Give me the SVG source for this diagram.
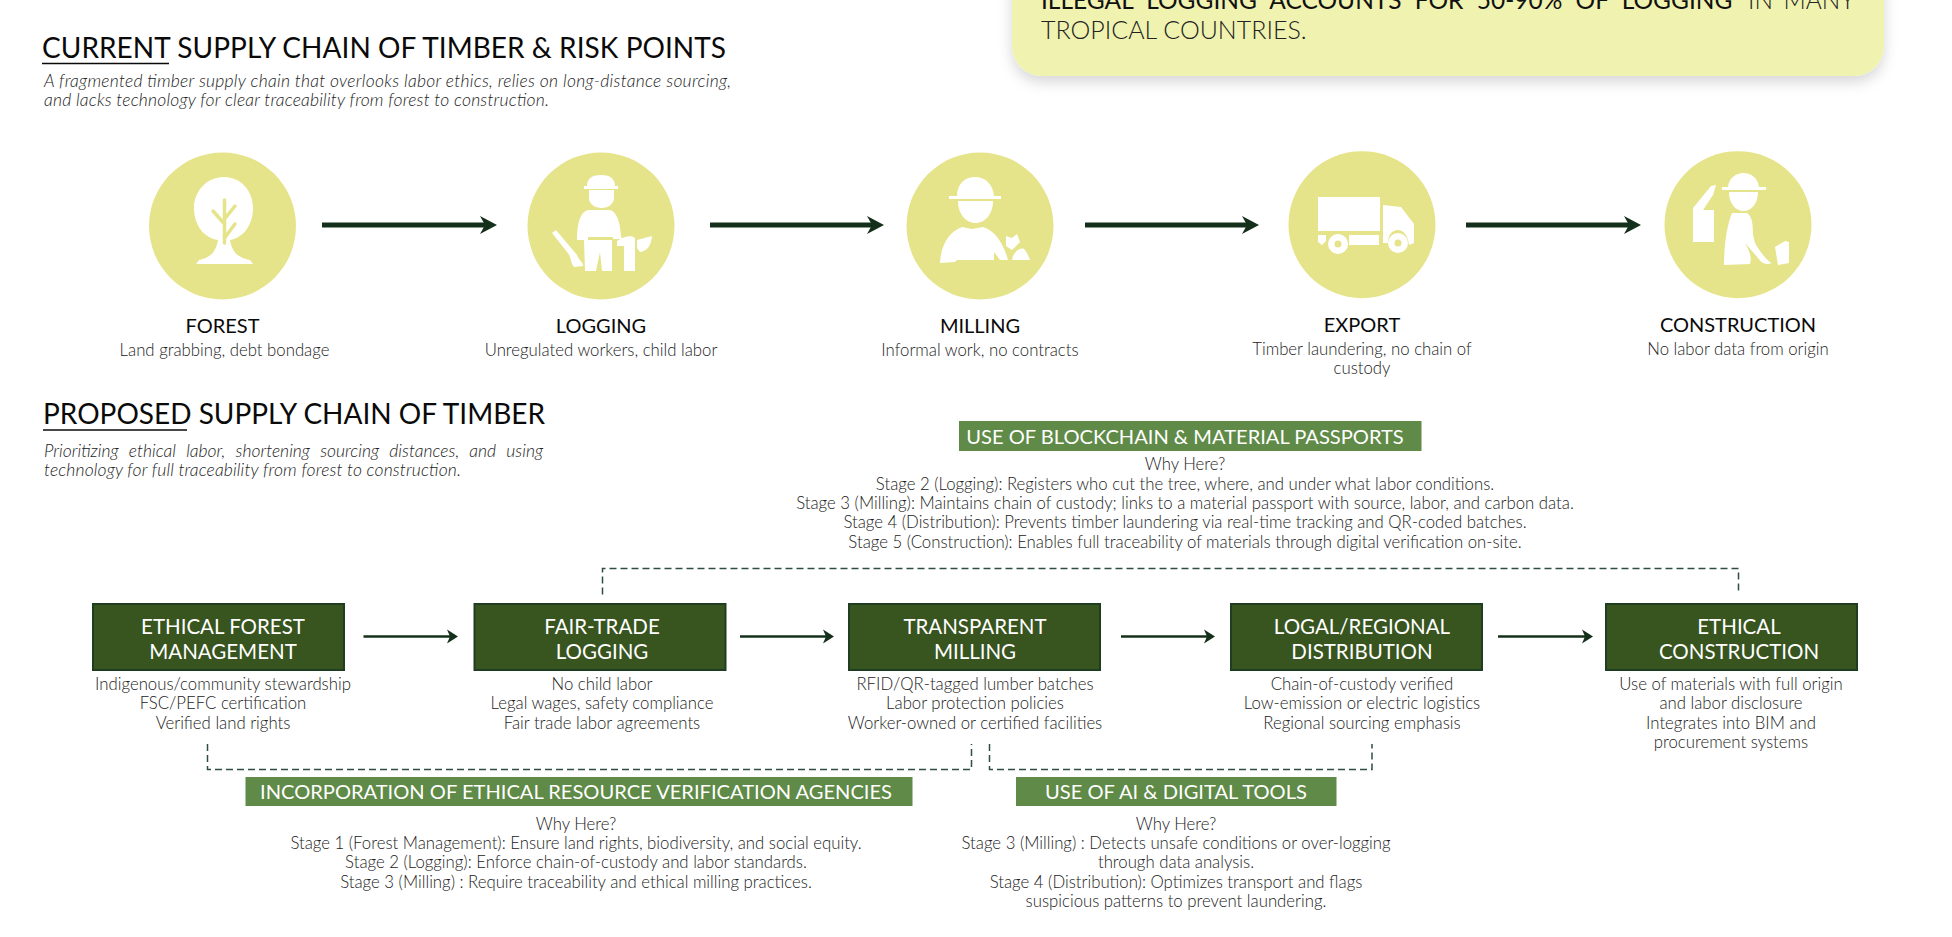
<svg xmlns="http://www.w3.org/2000/svg" width="1952" height="937" viewBox="0 0 1952 937">
<style>
text{font-family:"Lato","Liberation Sans",sans-serif}
.h1{font-size:28px;fill:#0a0a0a;font-weight:400}
.sub{font-size:17.500px;font-style:italic;font-weight:300;fill:#222}
.lab{font-size:20px;fill:#0a0a0a;text-anchor:middle;font-weight:400}
.b{font-size:16.750px;font-weight:300;fill:#222;text-anchor:middle}
.dk{fill:#38541f;stroke:#1f3d20;stroke-width:2}
.dt{font-size:20.500px;fill:#fff;text-anchor:middle;font-weight:400}
.gr{fill:#5f8a47}
.gt{font-size:20.100px;fill:#fff;text-anchor:middle;font-weight:400}
.c{fill:#e6e48a}
.w{fill:#fff}
.y{stroke:#e6e48a;fill:none;stroke-width:3.500;stroke-linecap:round}
.a1{stroke:#15301a;stroke-width:5;fill:none;marker-end:url(#ah)}
.a2{stroke:#15301a;stroke-width:2.500;fill:none;marker-end:url(#ah2)}
.d{stroke:#2f4d42;stroke-width:1.500;fill:none;stroke-dasharray:7 4}
.ul{stroke:#0a0a0a;stroke-width:1.600}
</style>
<defs>
<marker id="ah" markerUnits="userSpaceOnUse" markerWidth="20" markerHeight="22" refX="5" refY="11" orient="auto" overflow="visible"><path d="M0 2 L17 11 L0 20 L5 11Z" fill="#15301a"/></marker>
<marker id="ah2" markerUnits="userSpaceOnUse" markerWidth="14" markerHeight="16" refX="3" refY="8" orient="auto" overflow="visible"><path d="M0 1 L11 8 L0 15 L3 8Z" fill="#15301a"/></marker>
<filter id="sh" x="-5%" y="-20%" width="110%" height="150%"><feDropShadow dx="0" dy="6" stdDeviation="7" flood-color="#000" flood-opacity="0.16"/></filter>
</defs>

<g id="callout">
<rect x="1012" y="-60" width="872" height="136" rx="30" fill="#f0f2b0" filter="url(#sh)"/>
<text x="1041" y="9" font-size="24.500" font-weight="400" fill="#111" word-spacing="7">ILLEGAL LOGGING ACCOUNTS FOR 50-90% OF LOGGING</text>
<text x="1748" y="9" font-size="24.500" font-weight="300" fill="#222" word-spacing="4">IN MANY</text>
<text x="1041" y="39" font-size="25" font-weight="300" fill="#222">TROPICAL COUNTRIES.</text>
</g>

<g id="header-current">
<text class="h1" x="42" y="58" textLength="684">CURRENT SUPPLY CHAIN OF TIMBER &amp; RISK POINTS</text>
<line class="ul" x1="42" y1="63.500" x2="169" y2="63.500"/>
<text class="sub" x="44" y="87" textLength="687">A fragmented timber supply chain that overlooks labor ethics, relies on long-distance sourcing,</text>
<text class="sub" x="44" y="106" textLength="505">and lacks technology for clear traceability from forest to construction.</text>
</g>

<g id="forest">
<circle class="c" cx="222.500" cy="226" r="73.500"/>
<path class="w" d="M224 177C241 177 253 191 253 208C253 225 243 238 230 240C232 252 238 258 250 260L253 264H196L199 260C210 258 216 252 218 240C204 238 194 225 194 208C194 191 207 177 224 177Z"/>
<path class="y" d="M224.500 200V243M224.500 224L213 211M224.500 219L235 206M224.500 238L235 224"/>
<text class="lab" x="222.500" y="333">FOREST</text>
<text class="b" x="224.500" y="356">Land grabbing, debt bondage</text>
</g>

<g id="logging">
<circle class="c" cx="601" cy="226" r="73.500"/>
<path class="w" d="M587 186C587 178 593 175 601 175C609 175 615 178 615 186H618V189H584V186Z"/>
<path class="w" d="M589 190H614V198C614 204 608 208 601.500 208C595 208 589 204 589 198Z"/>
<path class="w" d="M588 210H610C617 212 620 222 621 236L622 239H613V237H588L588 240H577C577 224 580 212 588 210ZM584 240H612V271H602L600 252L596 271H585Z"/>
<path class="w" d="M552 233L556 230L577 255C580 262 584 263 583 266L574 267C570 262 572 258 567 252Z"/>
<path class="w" d="M617 241C624 236 632 235 635 238V271H624V246L617 246ZM637 240L652 236C651 246 647 251 640 252L637 248Z"/>
<text class="lab" x="601" y="333">LOGGING</text>
<text class="b" x="601" y="356">Unregulated workers, child labor</text>
</g>

<g id="milling">
<circle class="c" cx="980" cy="226" r="73.500"/>
<path class="w" d="M957 196C957 184 965 177 975 177C985 177 993 184 994 196H1001V199H949V196Z"/>
<path class="w" d="M958 201H993C993 214 985 223 975.500 223C966 223 958 214 958 201Z"/>
<path class="w" d="M962 227L972 229L983 227C994 230 1003 242 1008 260L1000 260L994 252V260H957L955 262L940 263C941 246 948 232 962 227Z"/>
<path class="w" d="M1006 236L1012 238L1017 234L1020 242L1012 250L1006 246ZM1012 260C1013 252 1020 247 1024 249C1027 252 1029 257 1030 260Z"/>
<text class="lab" x="980" y="333">MILLING</text>
<text class="b" x="980" y="356">Informal work, no contracts</text>
</g>

<g id="export">
<circle class="c" cx="1362" cy="224.700" r="73.500"/>
<rect class="w" x="1318" y="197" width="62" height="34"/>
<path class="w" d="M1383 205L1401 207L1414 224V243L1409 245C1408 235 1403 230 1398 230C1392 230 1388 235 1388 243H1383Z"/>
<path class="w" d="M1318 235H1326L1326 241L1322 245L1318 242ZM1349 235H1379V245H1349Z"/>
<circle class="w" cx="1338" cy="244" r="10"/><circle class="c" cx="1338" cy="244" r="3.500"/>
<circle class="w" cx="1398" cy="243" r="10"/><circle class="c" cx="1398" cy="243" r="3.500"/>
<text class="lab" x="1362" y="332">EXPORT</text>
<text class="b" x="1362" y="354.500">Timber laundering, no chain of</text>
<text class="b" x="1362" y="374">custody</text>
</g>

<g id="construction">
<circle class="c" cx="1738" cy="224.700" r="73.500"/>
<path class="w" d="M1728 187C1729 178 1736 173 1743.500 173C1751 173 1758 178 1759 187H1766V190H1722V187Z"/>
<path class="w" d="M1729 192H1758C1758 204 1751 211 1743.500 211C1736 211 1729 204 1729 192Z"/>
<path class="w" d="M1732 213H1747C1752 216 1753 224 1753 235L1755 243C1760 252 1768 262 1772 263C1766 265 1762 264 1758 258L1745 243C1750 252 1752 258 1750 264L1724 265C1724 245 1727 225 1732 213Z"/>
<path class="w" d="M1775 247L1785 241L1789 242V263L1778 265Z"/>
<path class="w" d="M1693 208L1711 186L1716 185L1713 195L1703 210H1714V242H1693Z"/>
<text class="lab" x="1738" y="332">CONSTRUCTION</text>
<text class="b" x="1738" y="355">No labor data from origin</text>
</g>

<g id="header-proposed">
<text class="h1" x="43" y="423.500" textLength="502">PROPOSED SUPPLY CHAIN OF TIMBER</text>
<line class="ul" x1="43" y1="430" x2="187" y2="430"/>
<text class="sub" x="44" y="456.500" word-spacing="5.800">Prioritizing ethical labor, shortening sourcing distances, and using</text>
<text class="sub" x="44" y="475.500" textLength="417">technology for full traceability from forest to construction.</text>
</g>

<g id="blockchain">
<rect class="gr" x="959" y="421" width="462.500" height="30"/>
<text class="gt" x="1185" y="444">USE OF BLOCKCHAIN &amp; MATERIAL PASSPORTS</text>
<text class="b" x="1185" y="470">Why Here?</text>
<text class="b" x="1185" y="489.500">Stage 2 (Logging): Registers who cut the tree, where, and under what labor conditions.</text>
<text class="b" x="1185" y="508.500">Stage 3 (Milling): Maintains chain of custody; links to a material passport with source, labor, and carbon data.</text>
<text class="b" x="1185" y="528">Stage 4 (Distribution): Prevents timber laundering via real-time tracking and QR-coded batches.</text>
<text class="b" x="1185" y="547.500">Stage 5 (Construction): Enables full traceability of materials through digital verification on-site.</text>
</g>

<g id="ethical-forest">
<rect class="dk" x="93" y="604" width="251" height="66"/>
<text class="dt" x="223" y="634">ETHICAL FOREST</text><text class="dt" x="223" y="658.500">MANAGEMENT</text>
<text class="b" x="223" y="689.500">Indigenous/community stewardship</text>
<text class="b" x="223" y="709">FSC/PEFC certification</text>
<text class="b" x="223" y="728.500">Verified land rights</text>
</g>
<g id="fair-trade">
<rect class="dk" x="474.500" y="604" width="251" height="66"/>
<text class="dt" x="602" y="634">FAIR-TRADE</text><text class="dt" x="602" y="658.500">LOGGING</text>
<text class="b" x="602" y="689.500">No child labor</text>
<text class="b" x="602" y="709">Legal wages, safety compliance</text>
<text class="b" x="602" y="728.500">Fair trade labor agreements</text>
</g>
<g id="transparent">
<rect class="dk" x="849" y="604" width="251" height="66"/>
<text class="dt" x="975" y="634">TRANSPARENT</text><text class="dt" x="975" y="658.500">MILLING</text>
<text class="b" x="975" y="689.500">RFID/QR-tagged lumber batches</text>
<text class="b" x="975" y="709">Labor protection policies</text>
<text class="b" x="975" y="728.500">Worker-owned or certified facilities</text>
</g>
<g id="local">
<rect class="dk" x="1231" y="604" width="251" height="66"/>
<text class="dt" x="1362" y="634">LOGAL/REGIONAL</text><text class="dt" x="1362" y="658.500">DISTRIBUTION</text>
<text class="b" x="1362" y="689.500">Chain-of-custody verified</text>
<text class="b" x="1362" y="709">Low-emission or electric logistics</text>
<text class="b" x="1362" y="728.500">Regional sourcing emphasis</text>
</g>
<g id="ethical-construction">
<rect class="dk" x="1606" y="604" width="251" height="66"/>
<text class="dt" x="1739" y="634">ETHICAL</text><text class="dt" x="1739" y="658.500">CONSTRUCTION</text>
<text class="b" x="1731" y="689.500">Use of materials with full origin</text>
<text class="b" x="1731" y="709">and labor disclosure</text>
<text class="b" x="1731" y="728.500">Integrates into BIM and</text>
<text class="b" x="1731" y="748">procurement systems</text>
</g>

<g id="agencies">
<rect class="gr" x="245.500" y="777" width="667" height="29"/>
<text class="gt" x="576" y="799">INCORPORATION OF ETHICAL RESOURCE VERIFICATION AGENCIES</text>
<text class="b" x="576" y="829.500">Why Here?</text>
<text class="b" x="576" y="848.500">Stage 1 (Forest Management): Ensure land rights, biodiversity, and social equity.</text>
<text class="b" x="576" y="868">Stage 2 (Logging): Enforce chain-of-custody and labor standards.</text>
<text class="b" x="576" y="887.500">Stage 3 (Milling) : Require traceability and ethical milling practices.</text>
</g>
<g id="ai-tools">
<rect class="gr" x="1016" y="777" width="320.500" height="29"/>
<text class="gt" x="1176" y="799">USE OF AI &amp; DIGITAL TOOLS</text>
<text class="b" x="1176" y="829.500">Why Here?</text>
<text class="b" x="1176" y="848.500">Stage 3 (Milling) : Detects unsafe conditions or over-logging</text>
<text class="b" x="1176" y="868">through data analysis.</text>
<text class="b" x="1176" y="887.500">Stage 4 (Distribution): Optimizes transport and flags</text>
<text class="b" x="1176" y="907">suspicious patterns to prevent laundering.</text>
</g>

<g id="connectors">
<line class="a1" x1="322" y1="225" x2="485" y2="225"/>
<line class="a1" x1="710" y1="225" x2="872" y2="225"/>
<line class="a1" x1="1085" y1="225" x2="1247" y2="225"/>
<line class="a1" x1="1466" y1="225" x2="1629" y2="225"/>
<line class="a2" x1="363.500" y1="636.500" x2="450" y2="636.500"/>
<line class="a2" x1="740" y1="636.500" x2="826" y2="636.500"/>
<line class="a2" x1="1121" y1="636.500" x2="1207" y2="636.500"/>
<line class="a2" x1="1498" y1="636.500" x2="1585" y2="636.500"/>
<path class="d" d="M602.500 594.500V568.500H1738.500V594.500"/>
<path class="d" d="M207.500 744V769.500H971.500V744"/>
<path class="d" d="M989.500 744V769.500H1372V744"/>
</g>
</svg>
